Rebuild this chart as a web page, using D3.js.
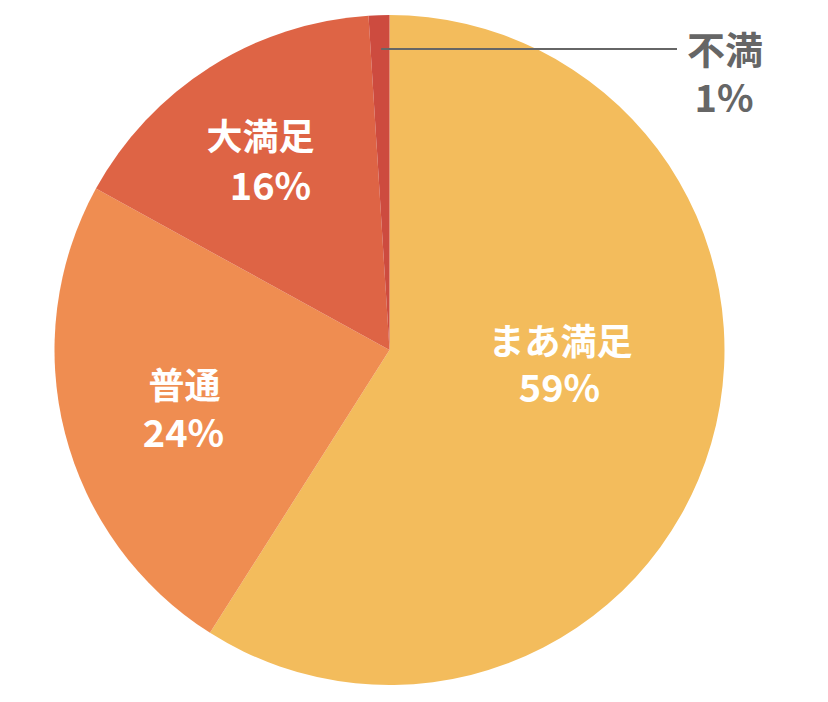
<!DOCTYPE html>
<html>
<head>
<meta charset="utf-8">
<script src="https://cdn.jsdelivr.net/npm/d3@7"></script>
<style>
  html, body { margin: 0; padding: 0; background: #fff; }
  text { font-family: "Noto Sans CJK JP", "Noto Sans", sans-serif; font-weight: 700; }
</style>
</head>
<body>
<div id="chart"></div>
<script>
"use strict"

const categories = ["まあ満足", "普通", "大満足", "不満"];
const values = [59, 24, 16, 1];
const colors = ["#F3BC5C", "#EF8D51", "#DE6445", "#CD4B3F"];

const width = 828, height = 702;
const cx = 389.5, cy = 350, radius = 335;

let svg = (
  d3.select("#chart")
    .append("svg")
    .attr("width", width)
    .attr("height", height));

let g = svg.append("g").attr("transform", `translate(${cx},${cy})`);

let pie = d3.pie().sort(null).value((d) => d.value);
let arc = d3.arc().innerRadius(0).outerRadius(radius);

let data = categories.map((c, i) => ({name: c, value: values[i], color: colors[i]}));
let arcs = pie(data);

// Slices
(g.selectAll("path.slice")
    .data(arcs)
  .enter()
    .append("path")
      .attr("class", "slice")
      .attr("d", arc)
      .attr("fill", (d) => d.data.color)
);

// Label offsets from pie center, per slice (name line, value line)
const labelPos = [
  {x: 171, y: 5, dx: -1, dy: 47},
  {x: -205, y: 49, dx: -1, dy: 48},
  {x: -129, y: -200, dx: 10, dy: 50}
];

arcs.slice(0, 3).forEach((a, i) => {
  let p = labelPos[i];
  g.append("text")
    .attr("x", p.x).attr("y", p.y)
    .attr("text-anchor", "middle")
    .attr("font-size", 36)
    .attr("fill", "#fff")
    .text(a.data.name);
  g.append("text")
    .attr("x", p.x + p.dx).attr("y", p.y + p.dy)
    .attr("text-anchor", "middle")
    .attr("font-size", 38)
    .attr("fill", "#fff")
    .text(`${a.data.value}%`);
});

// Callout for the small slice
let small = arcs[3];
let mid = (small.startAngle + small.endAngle) / 2;
let lineY = 49 - cy;
let startX = Math.sin(mid) * radius * 0.98 + 2;
g.append("line")
  .attr("x1", startX).attr("y1", lineY)
  .attr("x2", 677 - cx).attr("y2", lineY)
  .attr("stroke", "#666")
  .attr("stroke-width", 2);
g.append("text")
  .attr("x", 725 - cx).attr("y", 64 - cy)
  .attr("text-anchor", "middle")
  .attr("font-size", 38)
  .attr("fill", "#666")
  .text(small.data.name);
g.append("text")
  .attr("x", 724 - cx).attr("y", 112 - cy)
  .attr("text-anchor", "middle")
  .attr("font-size", 38)
  .attr("fill", "#666")
  .text(`${small.data.value}%`);
</script>
</body>
</html>
